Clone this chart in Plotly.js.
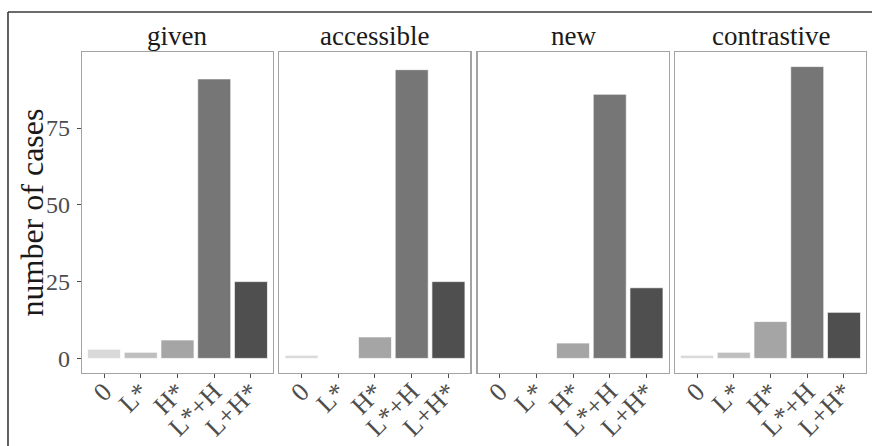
<!DOCTYPE html>
<html>
<head>
<meta charset="utf-8">
<script src="https://cdn.plot.ly/plotly-3.0.1.min.js"></script>
<style>html,body{margin:0;padding:0;background:#fff;}#chart{width:872px;height:446px;}</style>
</head>
<body>
<div id="chart"></div>
<script>
const categories = ["0", "L*", "H*", "L*+H", "L+H*"];
const facets = ["given", "accessible", "new", "contrastive"];
const givenVals = [3, 2, 6, 91, 25];
const accessibleVals = [1, 0, 7, 94, 25];
const newVals = [0, 0, 5, 86, 23];
const contrastiveVals = [1, 2, 12, 95, 15];
const barColors = ["#d9d9d9", "#bfbfbf", "#a5a5a5", "#767676", "#4f4f4f"];
const yTicks = [0, 25, 50, 75];

const seriesList = [givenVals, accessibleVals, newVals, contrastiveVals];
const FONT = "Liberation Serif, Times New Roman, serif";
const domains = [[0, 0.2436], [0.2519, 0.4955], [0.5045, 0.7481], [0.7564, 1]];

const traces = seriesList.map((vals, i) => ({
  type: "bar",
  x: categories,
  y: vals,
  xaxis: i === 0 ? "x" : "x" + (i + 1),
  yaxis: i === 0 ? "y" : "y" + (i + 1),
  width: 0.9,
  marker: {color: barColors, line: {color: "rgba(255,255,255,0.7)", width: 1}},
  showlegend: false,
  hoverinfo: "x+y"
}));

const layout = {
  width: 872, height: 446,
  margin: {l: 82, r: 6, t: 52, b: 73},
  paper_bgcolor: "#ffffff",
  plot_bgcolor: "#ffffff",
  font: {family: FONT, color: "#4d4d4d"},
  bargap: 0.1,
  annotations: [],
  shapes: [
    {type: "line", xref: "paper", yref: "paper", x0: -0.0944, x1: 1.02, y0: 1.1246, y1: 1.1246, line: {color: "#3a3a3a", width: 1.6}},
    {type: "line", xref: "paper", yref: "paper", x0: -0.0944, x1: -0.0944, y0: 1.1246, y1: -0.3, line: {color: "#3a3a3a", width: 1.6}}
  ]
};

facets.forEach((name, i) => {
  const xk = i === 0 ? "xaxis" : "xaxis" + (i + 1);
  const yk = i === 0 ? "yaxis" : "yaxis" + (i + 1);
  const yid = i === 0 ? "y" : "y" + (i + 1);
  const xid = i === 0 ? "x" : "x" + (i + 1);
  layout[xk] = {
    domain: domains[i], anchor: yid,
    type: "category", categoryorder: "array", categoryarray: categories,
    range: [-0.6, 4.6],
    showline: true, mirror: true, linecolor: "#a3a3a3", linewidth: 1.2,
    ticks: "outside", ticklen: 4, tickcolor: "#4d4d4d", tickwidth: 1,
    tickangle: -45, ticklabelstandoff: -12,
    tickfont: {family: FONT, size: 26, color: "#4d4d4d"},
    showgrid: false, zeroline: false, fixedrange: true
  };
  layout[yk] = {
    domain: [0, 1], anchor: xid,
    range: [-4.75, 99.75],
    tickvals: yTicks,
    showticklabels: i === 0,
    ticks: i === 0 ? "outside" : "",
    ticklen: 4, tickcolor: "#4d4d4d", tickwidth: 1,
    ticklabelstandoff: 2,
    tickfont: {family: FONT, size: 24, color: "#4d4d4d"},
    showline: true, mirror: true, linecolor: "#a3a3a3", linewidth: 1.2,
    showgrid: false, zeroline: false, fixedrange: true
  };
  if (i > 0) layout[yk].matches = "y";
  layout.annotations.push({
    text: name, xref: "paper", yref: "paper",
    x: (domains[i][0] + domains[i][1]) / 2, y: 1,
    xanchor: "center", yanchor: "bottom", yshift: -1, showarrow: false,
    font: {family: FONT, size: 27, color: "#1a1a1a"}
  });
});

layout.annotations.push({
  text: "number of cases", xref: "paper", yref: "paper",
  x: -0.0638, y: 0.5, xanchor: "center", yanchor: "middle",
  textangle: -90, showarrow: false,
  font: {family: FONT, size: 32, color: "#1a1a1a"}
});

Plotly.newPlot("chart", traces, layout, {displayModeBar: false, staticPlot: true});
</script>
</body>
</html>
